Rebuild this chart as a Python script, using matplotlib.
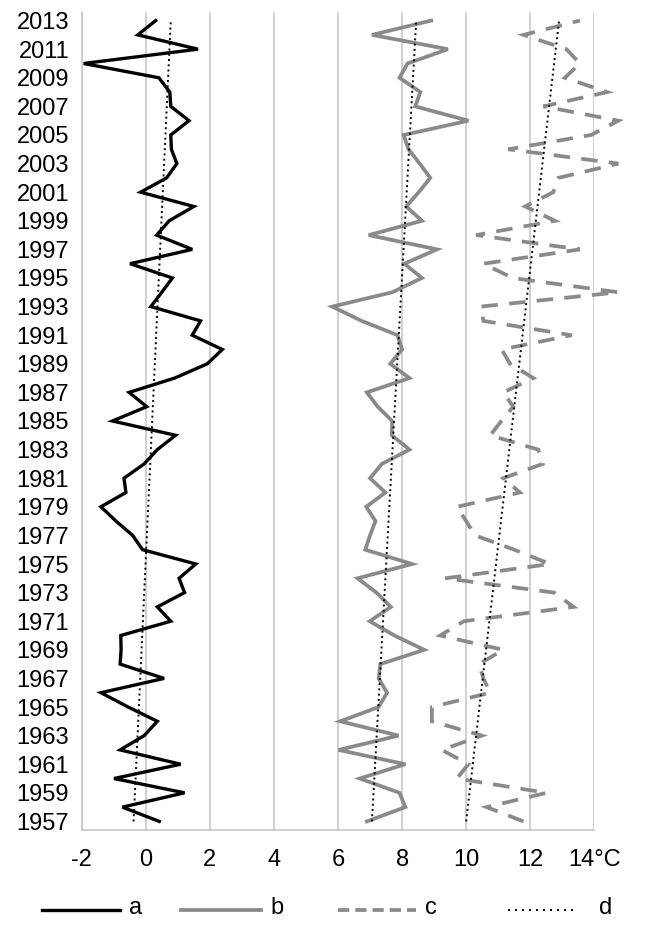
import numpy as np
import matplotlib
matplotlib.use("Agg")
import matplotlib.pyplot as plt
from matplotlib.lines import Line2D

plt.rcParams['font.family'] = ['Liberation Sans', 'DejaVu Sans']

years = list(range(1957, 2014))

series_a = [0.42, -0.73, 1.21, -0.99, 1.09, -0.80, -0.05, 0.36, -0.55, -1.40,
            0.57, -0.80, -0.77, -0.78, 0.78, 0.36, 1.21, 1.04, 1.56, -0.10,
            -0.41, -0.93, -1.40, -0.62, -0.68, -0.05, 0.36, 0.93, -1.04, 0.03,
            -0.52, 0.90, 1.92, 2.39, 1.45, 1.71, 0.16, 0.50, 0.83, -0.49,
            1.45, 0.34, 0.73, 1.50, -0.16, 0.65, 0.97, 0.80, 0.78, 1.35,
            0.78, 0.75, 0.41, -1.94, 1.63, -0.25, 0.31]

series_b = [6.90, 8.10, 7.92, 6.68, 8.10, 6.02, 7.89, 6.07, 7.27, 7.53,
            7.27, 7.32, 8.69, 7.76, 6.99, 7.65, 7.20, 6.61, 8.31, 6.85,
            7.00, 7.17, 6.88, 7.48, 7.00, 7.37, 8.23, 7.68, 7.69, 7.24,
            6.90, 8.23, 7.63, 8.00, 7.86, 6.74, 5.82, 7.69, 8.62, 8.07,
            9.09, 6.96, 8.62, 8.13, 8.52, 8.88, 8.55, 8.20, 8.05, 10.07,
            8.41, 8.57, 7.92, 8.17, 9.43, 7.06, 8.91]

series_c = [11.79, 10.64, 12.51, 9.71, 10.07, 9.24, 10.49, 8.93, 8.93, 10.75,
            10.54, 10.40, 11.16, 9.19, 9.93, 13.35, 12.75, 9.35, 12.62, 11.50,
            10.28, 10.00, 9.71, 11.68, 11.16, 12.39, 12.25, 10.75, 11.10, 11.47,
            11.16, 12.10, 11.37, 11.11, 13.29, 10.54, 10.45, 14.75, 11.45, 10.54,
            13.55, 10.31, 12.77, 11.84, 12.72, 12.88, 14.75, 11.32, 13.90, 14.75,
            12.41, 14.40, 13.08, 13.55, 13.13, 11.79, 13.55]

# linear trend lines (d), end values
trend_years = [1957, 2013]
trend_a = [-0.38, 0.78]
trend_b = [7.06, 8.44]
trend_c = [10.00, 12.90]

x_ticks = [-2, 0, 2, 4, 6, 8, 10, 12, 14]
x_tick_labels = ['-2', '0', '2', '4', '6', '8', '10', '12', '14°C']
y_ticks = list(range(1957, 2014, 2))
legend_labels = ['a', 'b', 'c', 'd']

W, H = 651, 938
fig = plt.figure(figsize=(W / 100, H / 100), dpi=100)
left, right, top, bottom = 81.7, 594.3, 12, 830
ax = fig.add_axes([left / W, (H - bottom) / H, (right - left) / W, (bottom - top) / H])

yrs = np.array(years, dtype=float)
grid_col = '#c4c4c4'
gray = '#8a8a8a'
fs = 17

ax.plot(series_a, yrs, color='black', lw=2.4, solid_joinstyle='miter', clip_on=False, zorder=3)
ax.plot(series_b, yrs, color=gray, lw=2.7, solid_joinstyle='miter', clip_on=False, zorder=3)
ax.plot(series_c, yrs, color=gray, lw=2.7, dashes=(4.4, 3.0), dash_joinstyle='miter',
        clip_on=False, zorder=3)

for tr in (trend_a, trend_b, trend_c):
    ax.plot(tr, trend_years, color='black', lw=1.4, dashes=(1, 1.7), zorder=4)

ax.set_xlim(-2, 14)
ax.set_ylim(1956.4, 2013.6)
ax.set_xticks(x_ticks)
ax.set_xticklabels(x_tick_labels)
ax.set_yticks(y_ticks)
ax.set_yticklabels([str(y) for y in y_ticks])
ax.tick_params(axis='both', length=0, labelsize=fs, colors='black')
ax.tick_params(axis='y', pad=9)
ax.tick_params(axis='x', pad=14)

ax.grid(axis='x', color=grid_col, lw=1.1)
ax.set_axisbelow(True)
for side in ('top', 'right'):
    ax.spines[side].set_visible(False)
for side in ('left', 'bottom'):
    ax.spines[side].set_color(grid_col)
    ax.spines[side].set_linewidth(1.1)

# manual legend (pixel positions converted to figure fraction)
leg_y = 910
leg_items = [
    dict(x0=42, x1=120, color='black', lw=2.4, dashes=None),
    dict(x0=181, x1=261, color=gray, lw=2.7, dashes=None),
    dict(x0=338, x1=416, color=gray, lw=2.7, dashes=(3.0, 1.6)),
    dict(x0=508, x1=577, color='black', lw=1.4, dashes=(1, 2.6)),
]
for item, lab in zip(leg_items, legend_labels):
    ln = Line2D([item['x0'] / W, item['x1'] / W], [(H - leg_y) / H] * 2,
                transform=fig.transFigure, color=item['color'], lw=item['lw'])
    if item['dashes'] is not None:
        ln.set_dashes(item['dashes'])
    fig.add_artist(ln)
    tx = item['x1'] + (22 if lab == 'd' else 9)
    fig.text(tx / W, (H - leg_y + 2) / H, lab, fontsize=fs, ha='left', va='center')

fig.savefig('out.png', dpi=100)
